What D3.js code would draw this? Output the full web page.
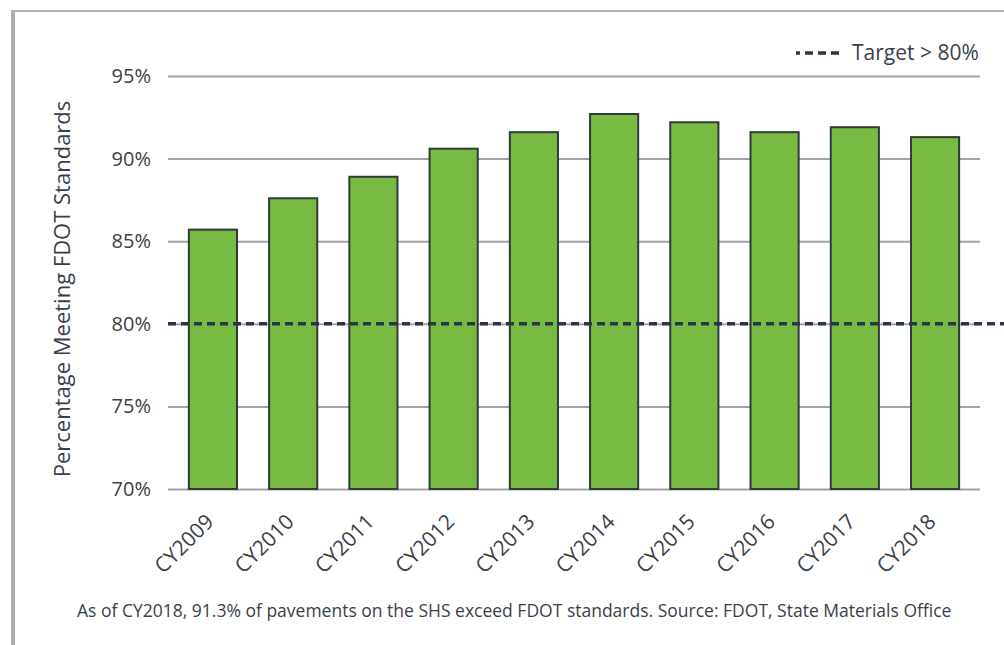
<!DOCTYPE html>
<html>
<head>
<meta charset="utf-8">
<script src="https://cdn.jsdelivr.net/npm/d3@7"></script>
<style>
  body { margin: 0; background: #fff; }
  text { font-family: "Open Sans", sans-serif; fill: #3b3f4a; }
</style>
</head>
<body>
<div class="root"></div>
<script>
var years = ['CY2009', 'CY2010', 'CY2011', 'CY2012', 'CY2013', 'CY2014', 'CY2015', 'CY2016', 'CY2017', 'CY2018'];
var percentMeeting = [85.7, 87.6, 88.9, 90.6, 91.6, 92.7, 92.2, 91.6, 91.9, 91.3];
var yTicks = [70, 75, 80, 85, 90, 95];
var target = 80;

function drawChart() {
  var w = 1004, h = 645;
  var svg = d3.select('.root').append('svg')
    .attr('width', w)
    .attr('height', h);

  // frame
  svg.append('line')
    .attr('x1', 12).attr('x2', w).attr('y1', 11).attr('y2', 11)
    .attr('stroke', '#b4b5bc').attr('stroke-width', 2);
  svg.append('rect')
    .attr('x', 11).attr('y', 10).attr('width', 4).attr('height', h - 10)
    .attr('fill', '#acaeb6');

  var x = d3.scaleBand()
    .domain(years)
    .range([168, 980])
    .paddingInner(0.4)
    .paddingOuter(0.26);

  var y = d3.scaleLinear()
    .domain([70, 95])
    .range([489, 76]);

  // gridlines + y labels
  var yAxis = svg.append('g')
    .attr('transform', 'translate(168,0)')
    .call(d3.axisLeft(y)
      .tickValues(yTicks)
      .tickSize(-(980 - 168))
      .tickPadding(17)
      .tickFormat(function(d) { return d + '%'; }));
  yAxis.select('.domain').remove();
  yAxis.selectAll('line').attr('stroke', '#a3a4ab').attr('stroke-width', 2);
  yAxis.selectAll('text')
    .attr('font-size', 20)
    .attr('font-family', '"Open Sans", sans-serif')
    .attr('fill', '#3b3f4a');

  svg.append('g')
    .selectAll('rect')
    .data(percentMeeting)
    .enter().append('rect')
      .attr('x', function(d, i) { return x(years[i]); })
      .attr('y', function(d) { return y(d); })
      .attr('width', x.bandwidth())
      .attr('height', function(d) { return y(70) - y(d); })
      .attr('fill', '#78bb42')
      .attr('stroke', '#2f3b38')
      .attr('stroke-width', 2);

  // target line
  svg.append('line')
    .attr('x1', 168).attr('x2', w)
    .attr('y1', y(target)).attr('y2', y(target))
    .attr('stroke', '#2d3348')
    .attr('stroke-width', 3.5)
    .attr('stroke-dasharray', '8,5');

  // x labels
  var xAxis = svg.append('g')
    .attr('transform', 'translate(0,489)')
    .call(d3.axisBottom(x).tickSize(0).tickPadding(0));
  xAxis.select('.domain').remove();
  xAxis.selectAll('text')
    .attr('font-size', 21)
    .attr('font-family', '"Open Sans", sans-serif')
    .attr('fill', '#3b3f4a')
    .attr('text-anchor', 'end')
    .attr('dy', 0)
    .attr('transform', 'translate(2,34) rotate(-45)');

  // y title
  svg.append('text')
    .attr('transform', 'translate(70,289) rotate(-90)')
    .attr('text-anchor', 'middle')
    .attr('font-size', 22)
    .text('Percentage Meeting FDOT Standards');

  // legend
  svg.append('line')
    .attr('x1', 796).attr('x2', 842).attr('y1', 53).attr('y2', 53)
    .attr('stroke', '#2d3348')
    .attr('stroke-width', 3.5)
    .attr('stroke-dasharray', '4,5,8,5,8,5,8,5');
  svg.append('text')
    .attr('x', 852).attr('y', 60)
    .attr('font-size', 21)
    .text('Target > 80%');

  // footnote
  svg.append('text')
    .attr('x', 77).attr('y', 617)
    .attr('font-size', 17.5)
    .text('As of CY2018, 91.3% of pavements on the SHS exceed FDOT standards. Source: FDOT, State Materials Office');
}

window.onload = function() {
  drawChart();
}
</script>
</body>
</html>
